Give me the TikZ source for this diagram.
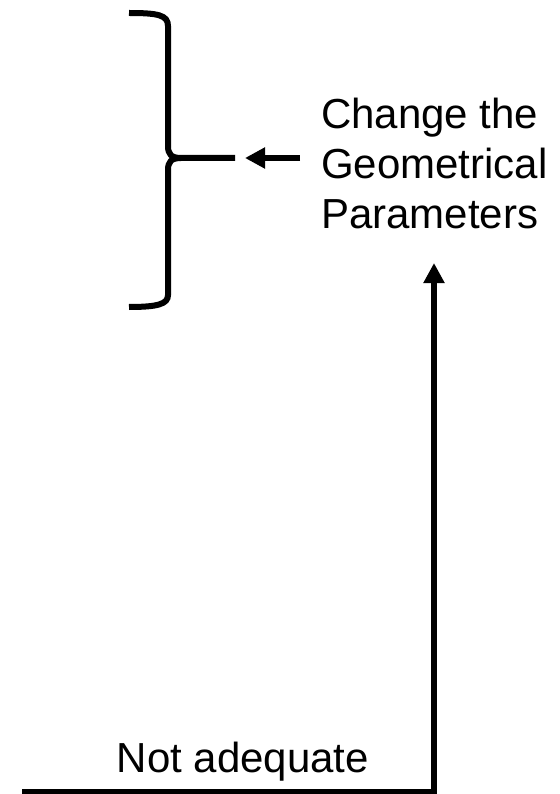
\documentclass[tikz,border=0pt]{standalone}
\usepackage{fontspec}
\setmainfont{Liberation Sans}
\usetikzlibrary{arrows.meta}
\begin{document}
\begin{tikzpicture}[x=1pt, y=-1pt, line width=6pt,
  label text/.style={inner sep=0pt, font=\fontsize{42}{50}\selectfont, align=left},
  big arrow/.style={-{Triangle[length=20pt, width=20pt]}}]
  \useasboundingbox (0,0) rectangle (559,794);
  % brace
  \coordinate (bracetop) at (129,13);
  \coordinate (bracemid) at (181,158);
  \coordinate (braceend) at (235,158);
  \coordinate (bracebot) at (129,307);
  \draw (bracetop) .. controls (158,13) and (168,15) .. (168,26) -- (168,146)
    .. controls (168,154) and (171,158) .. (bracemid) -- (braceend);
  \draw (bracemid) .. controls (171,158) and (168,162) .. (168,170) -- (168,295)
    .. controls (168,304) and (158,307) .. (bracebot);
  % labels
  \node[label text, anchor=north west] (change) at (318,95) {Change the\\Geometrical\\Parameters};
  \node[label text, anchor=base] (notok) at (243,772) {Not adequate};
  % arrows
  \coordinate (lefttail) at (300,158);
  \coordinate (lefttip) at (245,158);
  \draw[big arrow] (lefttail) -- (lefttip);
  \coordinate (start) at (22,792);
  \coordinate (corner) at (434,792);
  \coordinate (uptip) at (434,263);
  \draw[big arrow, line join=miter] (start) -- (corner) -- (uptip);
\end{tikzpicture}
\end{document}
